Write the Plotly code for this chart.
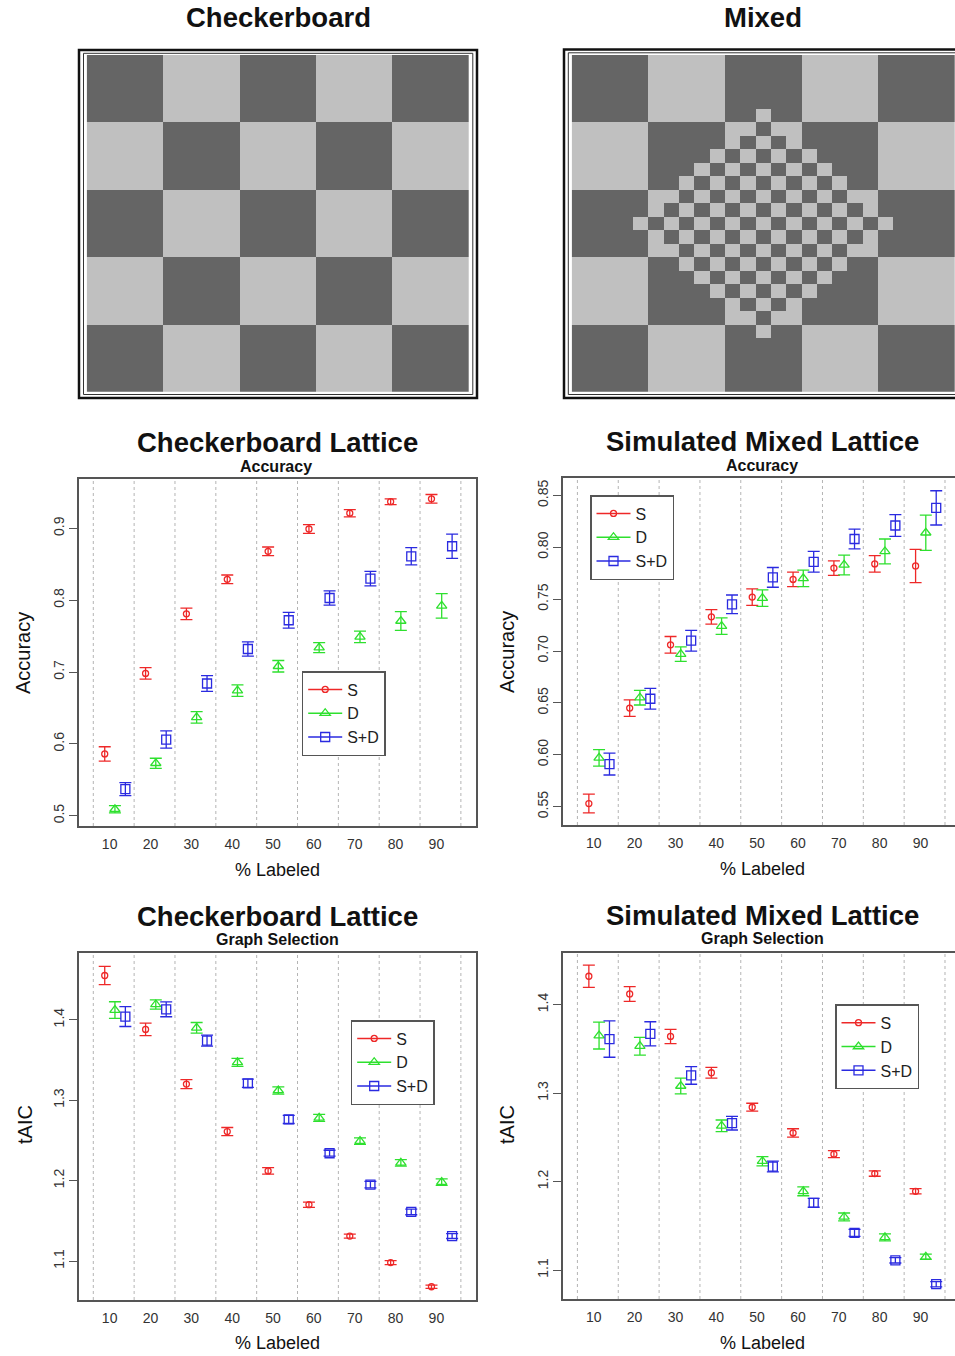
import plotly.graph_objects as go

W, H = 955, 1356

# ---------------- data ----------------
pct_labeled = [10, 20, 30, 40, 50, 60, 70, 80, 90]
separators = [6, 16, 26, 36, 46, 56, 66, 76, 86, 96]
methods = ["S", "D", "S+D"]

# Checkerboard lattice - accuracy
cb_acc_S = [0.586, 0.698, 0.781, 0.829, 0.868, 0.899, 0.921, 0.937, 0.941]
cb_acc_S_err = [0.010, 0.008, 0.008, 0.006, 0.006, 0.006, 0.005, 0.004, 0.006]
cb_acc_D = [0.509, 0.573, 0.637, 0.674, 0.708, 0.734, 0.749, 0.771, 0.792]
cb_acc_D_err = [0.005, 0.007, 0.008, 0.008, 0.008, 0.007, 0.008, 0.013, 0.017]
cb_acc_SD = [0.537, 0.606, 0.684, 0.732, 0.772, 0.803, 0.830, 0.861, 0.875]
cb_acc_SD_err = [0.009, 0.012, 0.011, 0.010, 0.011, 0.010, 0.010, 0.012, 0.017]

# Simulated mixed lattice - accuracy
mx_acc_S = [0.553, 0.645, 0.706, 0.733, 0.752, 0.769, 0.780, 0.784, 0.782]
mx_acc_S_err = [0.009, 0.008, 0.008, 0.007, 0.008, 0.007, 0.007, 0.008, 0.016]
mx_acc_D = [0.597, 0.655, 0.697, 0.724, 0.751, 0.770, 0.783, 0.796, 0.814]
mx_acc_D_err = [0.008, 0.007, 0.007, 0.008, 0.008, 0.008, 0.0095, 0.012, 0.017]
mx_acc_SD = [0.591, 0.654, 0.710, 0.745, 0.771, 0.786, 0.808, 0.821, 0.838]
mx_acc_SD_err = [0.0105, 0.010, 0.010, 0.009, 0.0095, 0.010, 0.0095, 0.0105, 0.0165]

# Checkerboard lattice - graph selection (tAIC)
cb_taic_S = [1.455, 1.388, 1.320, 1.261, 1.212, 1.170, 1.131, 1.098, 1.068]
cb_taic_S_err = [0.0114, 0.0077, 0.0056, 0.005, 0.004, 0.0033, 0.0025, 0.0025, 0.002]
cb_taic_D = [1.412, 1.419, 1.390, 1.347, 1.312, 1.278, 1.249, 1.222, 1.198]
cb_taic_D_err = [0.0104, 0.0058, 0.0066, 0.005, 0.0046, 0.0044, 0.004, 0.004, 0.004]
cb_taic_SD = [1.404, 1.413, 1.374, 1.321, 1.276, 1.234, 1.195, 1.161, 1.131]
cb_taic_SD_err = [0.0124, 0.0093, 0.0068, 0.0052, 0.005, 0.0037, 0.004, 0.0035, 0.003]

# Simulated mixed lattice - graph selection (tAIC)
mx_taic_S = [1.432, 1.412, 1.364, 1.323, 1.284, 1.255, 1.231, 1.209, 1.189]
mx_taic_S_err = [0.0126, 0.0083, 0.0081, 0.006, 0.0045, 0.0047, 0.004, 0.003, 0.003]
mx_taic_D = [1.365, 1.353, 1.308, 1.263, 1.223, 1.189, 1.160, 1.137, 1.115]
mx_taic_D_err = [0.0152, 0.010, 0.0088, 0.0066, 0.0053, 0.005, 0.0045, 0.004, 0.003]
mx_taic_SD = [1.361, 1.367, 1.320, 1.266, 1.217, 1.176, 1.142, 1.111, 1.084]
mx_taic_SD_err = [0.0205, 0.0136, 0.010, 0.0077, 0.006, 0.005, 0.004, 0.003, 0.003]

# tick labels
acc_cb_ticks = [0.5, 0.6, 0.7, 0.8, 0.9]
acc_cb_ticktext = ["0.5", "0.6", "0.7", "0.8", "0.9"]
acc_mx_ticks = [0.55, 0.60, 0.65, 0.70, 0.75, 0.80, 0.85]
acc_mx_ticktext = ["0.55", "0.60", "0.65", "0.70", "0.75", "0.80", "0.85"]
taic_ticks = [1.1, 1.2, 1.3, 1.4]
taic_ticktext = ["1.1", "1.2", "1.3", "1.4"]

# lattice images (1 = dark, 0 = light)
checkerboard_rows = ["10101", "01010", "10101", "01010", "10101"]
mixed_rows = [
    "1111100000111110000011111",
    "1111100000111110000011111",
    "1111100000111110000011111",
    "1111100000111110000011111",
    "1111100000110110000011111",
    "0000011111001001111100000",
    "0000011111010101111100000",
    "0000011110101010111100000",
    "0000011101010101011100000",
    "0000011010101010101100000",
    "1111100101010101010011111",
    "1111101010101010101011111",
    "1111010101010101010101111",
    "1111101010101010101011111",
    "1111100101010101010011111",
    "0000011010101010101100000",
    "0000011101010101011100000",
    "0000011110101010111100000",
    "0000011111010101111100000",
    "0000011111001001111100000",
    "1111100000110110000011111",
    "1111100000111110000011111",
    "1111100000111110000011111",
    "1111100000111110000011111",
    "1111100000111110000011111",
]

# ---------------- styling ----------------
FONT = "Liberation Sans, Arial, Helvetica, sans-serif"
colors = {"S": "#ee2828", "D": "#2ee02e", "S+D": "#2a2ae0"}
symbols = {"S": "circle-open", "D": "triangle-up-open", "S+D": "square-open"}
msize = {"S": 6, "D": 9, "S+D": 9}
offsets = {"S": -1.2, "D": 1.3, "S+D": 3.85}
FRAME = "#555555"


def px_x(v):
    return v / W


def px_y(v):
    return 1 - v / H


fig = go.Figure()

panels = [
    ("", {"S": (cb_acc_S, cb_acc_S_err), "D": (cb_acc_D, cb_acc_D_err), "S+D": (cb_acc_SD, cb_acc_SD_err)}, "legend"),
    ("2", {"S": (mx_acc_S, mx_acc_S_err), "D": (mx_acc_D, mx_acc_D_err), "S+D": (mx_acc_SD, mx_acc_SD_err)}, "legend2"),
    ("3", {"S": (cb_taic_S, cb_taic_S_err), "D": (cb_taic_D, cb_taic_D_err), "S+D": (cb_taic_SD, cb_taic_SD_err)}, "legend3"),
    ("4", {"S": (mx_taic_S, mx_taic_S_err), "D": (mx_taic_D, mx_taic_D_err), "S+D": (mx_taic_SD, mx_taic_SD_err)}, "legend4"),
]

for suf, series, leg in panels:
    for m in methods:
        vals, errs = series[m]
        fig.add_trace(go.Scatter(
            x=[p + offsets[m] for p in pct_labeled], y=vals,
            mode="markers",
            marker=dict(symbol=symbols[m], size=msize[m], color=colors[m],
                        line=dict(width=1.3, color=colors[m])),
            error_y=dict(type="data", array=errs, color=colors[m], thickness=1.3, width=6),
            xaxis="x" + suf, yaxis="y" + suf, showlegend=False, hoverinfo="skip",
        ))
    for m in methods:
        fig.add_trace(go.Scatter(
            x=[None], y=[None], mode="lines+markers", name=m,
            marker=dict(symbol=symbols[m], size=msize[m], color=colors[m],
                        line=dict(width=1.3, color=colors[m])),
            line=dict(color=colors[m], width=1.5),
            xaxis="x" + suf, yaxis="y" + suf, legend=leg, showlegend=True,
        ))

# lattice images
fig.add_trace(go.Heatmap(
    z=[[int(c) for c in r] for r in checkerboard_rows],
    colorscale=[[0, "#c0c0c0"], [1, "#656565"]], zmin=0, zmax=1,
    showscale=False, xaxis="x5", yaxis="y5", hoverinfo="skip",
))
fig.add_trace(go.Heatmap(
    z=[[int(c) for c in r] for r in mixed_rows],
    colorscale=[[0, "#c0c0c0"], [1, "#656565"]], zmin=0, zmax=1,
    showscale=False, xaxis="x6", yaxis="y6", hoverinfo="skip",
))

# ---------------- axes ----------------
left_dom = [px_x(79), px_x(476)]
right_dom = [px_x(563), 1.0]
left_range = [2.5, 99.7]
right_range = [2.47, 98.45]


def xax(dom, rng, anchor):
    return dict(domain=dom, range=rng, tickvals=pct_labeled, ticktext=[str(p) for p in pct_labeled],
                ticks="", showgrid=False, zeroline=False, showline=True, mirror=True,
                linecolor=FRAME, linewidth=1.5, tickfont=dict(size=14, color="#333", family=FONT),
                anchor=anchor, ticklabelstandoff=4, fixedrange=True)


def yax(dom, rng, tv, tt, anchor, mirror):
    return dict(domain=dom, range=rng, tickvals=tv, ticktext=tt, tickangle=-90,
                ticks="outside", ticklen=8, tickcolor=FRAME, tickwidth=1.2,
                showgrid=False, zeroline=False, showline=True, mirror=mirror,
                linecolor=FRAME, linewidth=1.5, tickfont=dict(size=14, color="#333", family=FONT),
                anchor=anchor, fixedrange=True)


fig.update_layout(
    width=W, height=H, margin=dict(l=0, r=0, t=0, b=0),
    paper_bgcolor="white", plot_bgcolor="white",
    font=dict(family=FONT, color="#222"),
    xaxis=xax(left_dom, left_range, "y"),
    yaxis=yax([px_y(826), px_y(479)], [0.4857, 0.9686], acc_cb_ticks, acc_cb_ticktext, "x", True),
    xaxis2=xax(right_dom, right_range, "y2"),
    yaxis2=yax([px_y(825), px_y(478)], [0.5323, 0.8668], acc_mx_ticks, acc_mx_ticktext, "x2", False),
    xaxis3=xax(left_dom, left_range, "y3"),
    yaxis3=yax([px_y(1300), px_y(953)], [1.0515, 1.483], taic_ticks, taic_ticktext, "x3", True),
    xaxis4=xax(right_dom, right_range, "y4"),
    yaxis4=yax([px_y(1299), px_y(953)], [1.0673, 1.4583], taic_ticks, taic_ticktext, "x4", False),
    xaxis5=dict(domain=[px_x(86.7), px_x(469)], range=[-0.5, 4.5], visible=False, anchor="y5", fixedrange=True),
    yaxis5=dict(domain=[px_y(391.7), px_y(55)], range=[4.5, -0.5], visible=False, anchor="x5", fixedrange=True),
    xaxis6=dict(domain=[px_x(571.7), 1.0], range=[-0.5, 24.5], visible=False, anchor="y6", fixedrange=True),
    yaxis6=dict(domain=[px_y(391.7), px_y(55)], range=[24.5, -0.5], visible=False, anchor="x6", fixedrange=True),
)


def legend_box(x, y):
    return dict(x=px_x(x), y=px_y(y), xanchor="left", yanchor="top", bgcolor="white",
                bordercolor=FRAME, borderwidth=1.5, font=dict(size=16, family=FONT, color="#222"),
                itemwidth=34, tracegroupgap=0)


fig.update_layout(
    legend=legend_box(301.7, 671),
    legend2=legend_box(590, 495),
    legend3=legend_box(350.7, 1020),
    legend4=legend_box(835, 1004.3),
)

# separators (dotted vertical lines)
shapes = []
for suf in ["", "2", "3", "4"]:
    for s in separators:
        shapes.append(dict(type="line", xref="x" + suf, yref="y" + suf + " domain",
                           x0=s, x1=s, y0=0, y1=1,
                           line=dict(color="#b4b4b4", width=1, dash="dot"), layer="below"))

# frames around lattice images
shapes += [
    dict(type="rect", xref="paper", yref="paper", x0=px_x(79), x1=px_x(477), y0=px_y(398), y1=px_y(50),
         line=dict(color="#111", width=2.5)),
    dict(type="rect", xref="paper", yref="paper", x0=px_x(83.5), x1=px_x(472.8), y0=px_y(394.5), y1=px_y(53.3),
         line=dict(color="#333", width=1)),
    dict(type="rect", xref="paper", yref="paper", x0=px_x(564), x1=px_x(990), y0=px_y(398), y1=px_y(49.5),
         line=dict(color="#111", width=2.5)),
    dict(type="rect", xref="paper", yref="paper", x0=px_x(568.3), x1=px_x(985), y0=px_y(394.5), y1=px_y(52.8),
         line=dict(color="#333", width=1)),
]
fig.update_layout(shapes=shapes)

# ---------------- text ----------------
ann = []


def text(x, y, s, size, bold=False, angle=0):
    ann.append(dict(x=px_x(x), y=px_y(y), xref="paper", yref="paper", text=s, showarrow=False,
                    xanchor="center", yanchor="middle", textangle=angle,
                    font=dict(size=size, family=FONT, color="#111", weight="bold" if bold else "normal")))


text(278, 17, "Checkerboard", 27.5, True)
text(763, 17, "Mixed", 27.5, True)

text(277.5, 442, "Checkerboard Lattice", 27.5, True)
text(276, 466, "Accuracy", 16, True)
text(762, 441, "Simulated Mixed Lattice", 27.5, True)
text(762, 465, "Accuracy", 16, True)

text(277.5, 916, "Checkerboard Lattice", 27.5, True)
text(277, 939, "Graph Selection", 16, True)
text(762, 915, "Simulated Mixed Lattice", 27.5, True)
text(762, 938, "Graph Selection", 16, True)

text(277.5, 870, "% Labeled", 18)
text(762, 869, "% Labeled", 18)
text(277.5, 1343, "% Labeled", 18)
text(762, 1343, "% Labeled", 18)

text(23, 653, "Accuracy", 20, angle=-90)
text(507, 652, "Accuracy", 20, angle=-90)
text(25, 1125, "tAIC", 20, angle=-90)
text(507, 1125, "tAIC", 20, angle=-90)

fig.update_layout(annotations=ann)

fig.write_html(
    "out.html",
    config={"displayModeBar": False},
    post_script="document.body.style.margin='0';document.body.style.overflow='hidden';",
)
